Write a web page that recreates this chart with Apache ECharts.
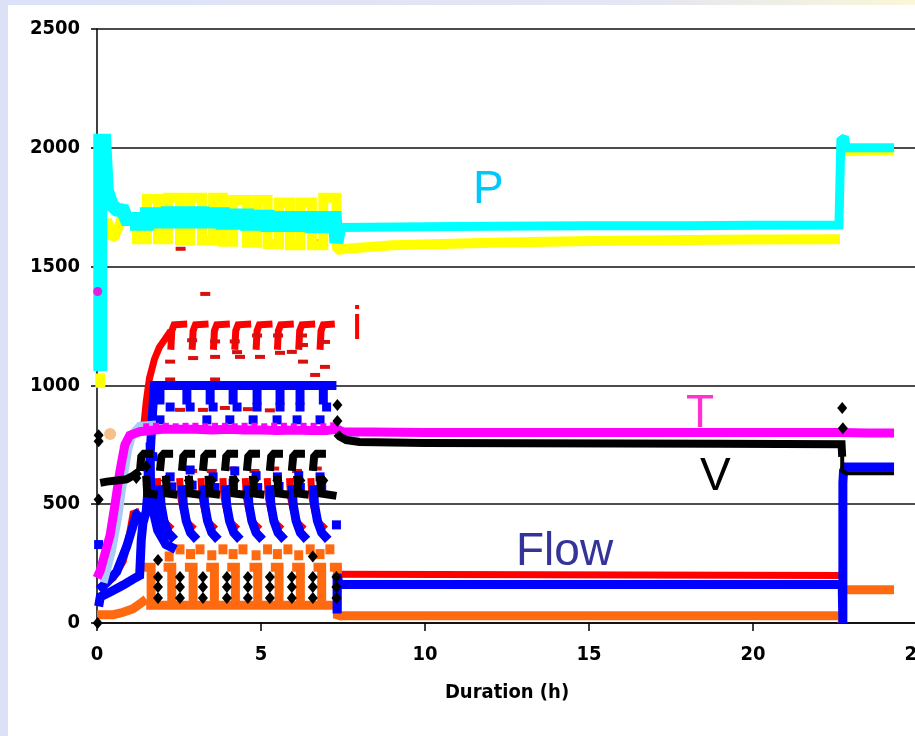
<!DOCTYPE html>
<html>
<head>
<meta charset="utf-8">
<script src="https://cdn.jsdelivr.net/npm/echarts@6/dist/echarts.min.js"></script>
<style>
html,body{margin:0;padding:0;background:#fff;}
#chart{width:915px;height:736px;}
</style>
</head>
<body>
<div id="chart"></div>
<script>
// ---- axis ticks ----
const xTicks = [0, 5, 10, 15, 20, 25];
const yTicks = [0, 500, 1000, 1500, 2000, 2500];
const xTitle = 'Duration (h)';
const G = '-';

// ---- P (cyan) ----
const pressureEarly = [[0.1,1060],[0.1,2030],[0.22,2030],[0.3,1820],[0.45,1760],[0.6,1740],[0.8,1735],[0.9,1700],[1.22,1700],[1.22,1680],[1.52,1680],[1.52,1720],[1.86,1720],[1.86,1690],[2.16,1690],[2.16,1725],[2.53,1725],[2.53,1690],[2.84,1690],[2.84,1725],[3.2,1725],[3.2,1690],[3.54,1690],[3.54,1720],[3.84,1720],[3.84,1685],[4.15,1685],[4.15,1715],[4.57,1715],[4.57,1680],[4.88,1680],[4.88,1710],[5.2,1710],[5.2,1675],[5.55,1675],[5.55,1705],[5.88,1705],[5.88,1675],[6.2,1675],[6.2,1705],[6.55,1705],[6.55,1670],[6.9,1670],[6.9,1705],[7.25,1705],[7.3,1600],[7.35,1600],[7.38,1665]];
const pressureLate = [[7.38,1665],[10,1668],[12,1670],[15,1672],[18,1672],[20,1674],[22.62,1675],[22.68,2040],[22.8,2035],[22.85,2000],[24.3,2000]];
// ---- yellow companion of P ----
const yellowTrace = [[0.1,990],[0.1,1050],[0.2,G],[0.3,1700],[0.45,1620],[0.55,1630],[0.75,1700],[1.0,1700],[1.22,1700],[1.22,1615],[1.52,1615],[1.52,1785],[1.86,1785],[1.86,1615],[2.16,1615],[2.16,1790],[2.53,1790],[2.53,1610],[2.84,1610],[2.84,1790],[3.2,1790],[3.2,1610],[3.54,1610],[3.54,1790],[3.84,1790],[3.84,1605],[4.15,1605],[4.15,1780],[4.57,1780],[4.57,1600],[4.88,1600],[4.88,1780],[5.2,1780],[5.2,1595],[5.55,1595],[5.55,1770],[5.88,1770],[5.88,1590],[6.2,1590],[6.2,1770],[6.55,1770],[6.55,1590],[6.9,1590],[6.9,1790],[7.3,1790],[7.32,1570],[7.6,1575],[9,1590],[12,1600],[15,1608],[18,1612],[20,1614],[22.65,1615],[22.7,G],[22.8,1985],[24.3,1990]];

// ---- i (red) ----
const currentLines = [[0.1,150],[0.5,190],[0.8,260],[1.0,380],[1.1,460],[1.3,470],[1.35,G],
 [1.42,820],[1.5,930],[1.6,1030],[1.75,1110],[1.9,1160],[2.1,1200],[2.25,1230],[2.26,G],
 [2.25,1150],[2.28,1230],[2.35,1255],[2.75,1258],[2.76,G],
 [2.9,1150],[2.93,1230],[3.0,1255],[3.4,1258],[3.41,G],
 [3.55,1150],[3.58,1230],[3.65,1255],[4.05,1258],[4.06,G],
 [4.2,1150],[4.23,1230],[4.3,1255],[4.7,1258],[4.71,G],
 [4.85,1150],[4.88,1230],[4.95,1255],[5.35,1258],[5.36,G],
 [5.5,1150],[5.53,1230],[5.6,1255],[6.0,1258],[6.01,G],
 [6.15,1150],[6.18,1230],[6.25,1255],[6.65,1258],[6.66,G],
 [6.8,1150],[6.83,1230],[6.9,1255],[7.25,1258],[7.26,G],
 [1.84,610],[1.87,530],[1.96,470],[2.09,420],[2.29,395],[2.3,G],
 [2.52,610],[2.55,530],[2.64,470],[2.77,420],[2.97,395],[2.98,G],
 [3.17,610],[3.2,530],[3.29,470],[3.42,420],[3.62,395],[3.63,G],
 [3.84,610],[3.87,530],[3.96,470],[4.09,420],[4.29,395],[4.3,G],
 [4.52,610],[4.55,530],[4.64,470],[4.77,420],[4.97,395],[4.98,G],
 [5.19,610],[5.22,530],[5.31,470],[5.44,420],[5.64,395],[5.65,G],
 [5.87,610],[5.9,530],[5.99,470],[6.12,420],[6.32,395],[6.33,G],
 [6.52,610],[6.55,530],[6.64,470],[6.77,420],[6.97,395],[6.98,G],
 [7.32,205],[22.72,200]];
const currentDashes = [[2.23,1100],[2.23,1025],[2.93,1115],[2.9,1190],[3.6,1120],[3.6,1185],[3.6,1025],[4.2,1185],[4.27,1140],[4.36,1120],[4.88,1210],[4.97,1120],[5.52,1210],[5.58,1137],[5.94,1141],[6.25,1210],[6.28,1170],[6.28,1100],[6.65,1044],[6.95,1078],[6.95,1183],[3.3,1385],[2.55,1575],[6.6,1605],[2.53,897],[3.23,897],[3.9,905],[4.6,900],[5.27,895],[2.9,640],[3.5,640],[4.1,650],[4.8,640],[5.4,650],[6.1,640],[6.7,650]];

// ---- Flow (blue) ----
const flowLines = [[0.05,70],[0.1,110],[0.4,130],[0.8,160],[1.1,185],[1.3,200],[1.35,350],[1.4,420],[1.5,470],[1.58,600],[1.64,760],[1.7,900],[1.75,1000],[7.3,1000],[7.31,G],
 [0.05,140],[0.3,170],[0.6,215],[0.9,320],[1.1,410],[1.2,455],[1.3,470],[1.31,G],
 [1.92,1000],[1.92,920],[1.93,G],[2.74,1000],[2.74,920],[2.75,G],[3.45,1000],[3.45,920],[3.46,G],[4.15,1000],[4.15,920],[4.16,G],[4.88,1000],[4.88,920],[4.89,G],[5.58,1000],[5.58,920],[5.59,G],[6.19,1000],[6.19,920],[6.2,G],[6.9,1000],[6.9,920],[6.91,G],
 [1.62,760],[1.63,600],[1.7,480],[1.85,390],[2.1,330],[2.4,310],[2.45,G],
 [1.92,580],[1.95,500],[2.04,430],[2.17,380],[2.37,350],[2.4,G],
 [2.6,580],[2.63,500],[2.72,430],[2.85,380],[3.05,350],[3.1,G],
 [3.25,580],[3.28,500],[3.37,430],[3.5,380],[3.7,350],[3.75,G],
 [3.92,580],[3.95,500],[4.04,430],[4.17,380],[4.37,350],[4.4,G],
 [4.6,580],[4.63,500],[4.72,430],[4.85,380],[5.05,350],[5.1,G],
 [5.27,580],[5.3,500],[5.39,430],[5.52,380],[5.72,350],[5.75,G],
 [5.95,580],[5.98,500],[6.07,430],[6.2,380],[6.4,350],[6.45,G],
 [6.6,580],[6.63,500],[6.72,430],[6.85,380],[7.05,350],[7.1,G],
 [7.32,40],[7.32,205],[7.38,162],[22.72,162],[22.74,0],[22.74,590],[22.76,640],[22.82,657],[24.3,657]];
const flowSquares = [[2.23,909],[2.84,909],[3.54,909],[4.27,909],[4.88,909],[5.58,909],[6.19,909],[7.0,909],[1.92,855],[3.35,855],[4.05,855],[4.76,855],[5.49,855],[6.1,855],[6.8,855],[1.56,636],[1.7,700],[2.23,615],[2.28,573],[2.84,644],[2.9,580],[3.54,615],[3.6,570],[4.15,589],[4.2,640],[4.85,620],[4.9,570],[5.5,615],[5.55,575],[6.15,620],[6.2,570],[6.8,615],[6.85,575],[7.3,413],[0.05,330]];

// ---- orange ----
const orangeLines = [[0,35],[0.5,35],[0.8,45],[1.1,60],[1.35,85],[1.5,100],[1.51,G],
 [1.5,75],[7.33,75],[7.34,G],
 [1.4,235],[1.65,235],[1.65,75],[1.66,G],
 [2.03,235],[2.28,235],[2.28,75],[2.29,G],
 [2.68,235],[2.93,235],[2.93,75],[2.94,G],
 [3.33,235],[3.58,235],[3.58,75],[3.59,G],
 [3.97,235],[4.22,235],[4.22,75],[4.23,G],
 [4.65,235],[4.9,235],[4.9,75],[4.91,G],
 [5.3,235],[5.55,235],[5.55,75],[5.56,G],
 [5.95,235],[6.2,235],[6.2,75],[6.21,G],
 [6.6,235],[6.85,235],[6.85,75],[6.86,G],
 [7.1,235],[7.33,235],[7.33,20],[7.38,30],[22.72,30],[22.72,0],[22.73,G],
 [22.8,140],[24.3,140]];
const orangeSquares = [[2.53,310],[3.14,310],[3.84,310],[4.45,310],[5.2,310],[5.82,310],[6.5,310],[7.1,310],[2.2,280],[2.85,290],[3.5,285],[4.15,290],[4.85,285],[5.5,290],[6.15,285],[6.8,290]];

// ---- T (magenta) and light blue ----
const tempLine = [[0,190],[0.1,220],[0.4,370],[0.55,500],[0.7,640],[0.85,750],[1.0,790],[1.3,805],[1.6,810],[2,815],[2.5,815],[3,815],[3.5,812],[4,815],[4.5,812],[5,812],[5.5,810],[6,812],[6.5,810],[7,810],[7.3,815],[7.5,805],[10,802],[15,802],[20,802],[22.7,802],[23.5,800],[24.3,800]];
const tempBumps = [[1.5,828],[1.8,830],[2.1,830],[2.4,828],[2.7,830],[3.0,830],[3.3,828],[3.6,830],[3.9,830],[4.2,828],[4.5,830],[4.8,830],[5.1,828],[5.4,830],[5.7,830],[6.0,828],[6.3,830],[6.6,830],[6.9,828],[7.2,832]];
const lightBlueLine = [[0.2,170],[0.45,300],[0.65,450],[0.8,600],[0.95,730],[1.1,800],[1.3,830],[1.8,835],[1.81,G],[7.3,830],[7.45,805],[7.6,790],[8,790]];

// ---- V (black) ----
const voltLines = [[0.1,590],[0.3,595],[0.6,600],[0.9,605],[1.1,620],[1.3,640],[1.31,G],
 [1.31,640],[1.35,700],[1.43,712],[1.71,712],[1.72,G],
 [1.92,640],[1.96,700],[2.04,712],[2.32,712],[2.33,G],
 [2.59,640],[2.63,700],[2.71,712],[2.99,712],[3.0,G],
 [3.23,640],[3.27,700],[3.35,712],[3.63,712],[3.64,G],
 [3.9,640],[3.94,700],[4.02,712],[4.3,712],[4.31,G],
 [4.57,640],[4.61,700],[4.69,712],[4.97,712],[4.98,G],
 [5.27,640],[5.31,700],[5.39,712],[5.67,712],[5.68,G],
 [5.94,640],[5.98,700],[6.06,712],[6.34,712],[6.35,G],
 [6.58,640],[6.62,700],[6.7,712],[6.98,712],[6.99,G],
 [1.5,620],[1.53,545],[1.85,540],[1.86,G],
 [2.1,620],[2.13,545],[2.45,540],[2.46,G],
 [2.8,620],[2.83,545],[3.15,540],[3.16,G],
 [3.4,620],[3.43,545],[3.75,540],[3.76,G],
 [4.15,620],[4.18,545],[4.5,540],[4.51,G],
 [4.75,620],[4.78,545],[5.1,540],[5.11,G],
 [5.5,620],[5.53,545],[5.85,540],[5.86,G],
 [6.1,620],[6.13,545],[6.45,540],[6.46,G],
 [6.8,620],[6.83,545],[7.3,535],[7.31,G],
 [7.3,800],[7.4,785],[7.6,770],[8,762],[10,758],[13,756],[16,755],[19,754],[22.7,752],[22.72,700],[22.73,G]];
const voltEnd = [[22.72,752],[22.72,640],[22.85,630],[24.3,630]];
const voltDiamonds = [[0.05,790],[0.05,765],[0.05,520],[0.02,0],[1.2,610],[7.33,918],[7.33,850],[22.72,905],[22.74,820],
 [1.86,105],[1.86,152],[1.86,194],[1.86,265],[2.53,105],[2.53,152],[2.53,194],[3.23,105],[3.23,152],[3.23,194],[3.96,105],[3.96,152],[3.96,194],[4.6,105],[4.6,152],[4.6,194],[5.27,105],[5.27,152],[5.27,194],[5.94,105],[5.94,152],[5.94,194],[6.58,105],[6.58,152],[6.58,194],[6.58,280],[7.3,105],[7.3,152],[7.3,194],
 [1.5,660],[2.1,600],[2.8,600],[3.5,600],[4.2,600],[4.8,600],[5.5,600],[6.2,600],[6.9,600]];

const peachDot = [[0.4,795]];
const magentaDot = [[0.02,1395]];

const chart = echarts.init(document.getElementById('chart'), null, {renderer:'canvas'});
const tickFont = {fontFamily:'"DejaVu Sans Condensed","DejaVu Sans",sans-serif', fontWeight:'bold', fontSize:20, color:'#000'};
function line(data, color, width, z) {
  return {type:'line', data:data, symbol:'none', connectNulls:false, z:z,
    lineStyle:{color:color, width:width, cap:'butt', join:'miter', miterLimit:1.5}, silent:true, animation:false};
}
function dots(data, color, symbol, size, z) {
  return {type:'scatter', data:data, symbol:symbol, symbolSize:size, z:z,
    itemStyle:{color:color, opacity:1}, silent:true, animation:false};
}
const annoFont = 'Liberation Sans, Arial, sans-serif';
function anno(text, x, y, color) {
  return {type:'text', x:x, y:y, z:100, style:{text:text, fill:color, font:'46px ' + annoFont, textAlign:'left', textVerticalAlign:'middle'}};
}
chart.setOption({
  animation:false,
  backgroundColor:'#ffffff',
  grid:{left:97, top:29, width:820, height:594, containLabel:false, outerBoundsMode:'none'},
  xAxis:{type:'value', min:xTicks[0], max:xTicks[xTicks.length-1], interval:5,
    name:xTitle, nameLocation:'middle', nameGap:60,
    nameTextStyle:{fontFamily:tickFont.fontFamily, fontWeight:'bold', fontSize:20, color:'#000'},
    axisLine:{show:true, onZero:false, lineStyle:{color:'#000', width:1.5}},
    axisTick:{show:true, inside:false, length:8, lineStyle:{color:'#000', width:1.5}},
    axisLabel:Object.assign({margin:22, formatter:function(v){return String(v);}}, tickFont),
    splitLine:{show:false}},
  yAxis:{type:'value', min:yTicks[0], max:yTicks[yTicks.length-1], interval:500,
    axisLine:{show:true, lineStyle:{color:'#000', width:1.5}},
    axisTick:{show:true, inside:false, length:6, lineStyle:{color:'#000', width:1.5}},
    axisLabel:Object.assign({margin:17, formatter:function(v){return String(v);}}, tickFont),
    splitLine:{show:true, lineStyle:{color:'#111', width:1.5}}},
  graphic:[
    {type:'rect', shape:{x:0, y:0, width:915, height:5}, z:-10, style:{fill:new echarts.graphic.LinearGradient(0,0,1,0,[{offset:0,color:'#dce1f8'},{offset:0.7,color:'#e4e6f2'},{offset:1,color:'#faf6d8'}])}},
    {type:'rect', shape:{x:0, y:0, width:8, height:736}, z:-10, style:{fill:'#dce1f8'}},
    anno('P', 473, 190, '#00c8f8'),
    anno('i', 352, 326, '#ff0000'),
    anno('T', 686, 414, '#ff33cc'),
    anno('V', 700, 477, '#000000'),
    anno('Flow', 516, 552, '#333399')
  ],
  series:[
    line(currentLines, '#ff0000', 7, 2),
    dots(currentDashes, '#d81010', 'rect', [10,4], 2),
    line(yellowTrace, '#ffff00', 10, 3),
    line(pressureEarly, '#00ffff', 14, 4),
    line(pressureLate, '#00ffff', 9, 4),
    line(orangeLines, '#ff6a10', 9, 5),
    dots(orangeSquares, '#ff6a10', 'rect', [9,10], 5),
    line(flowLines, '#0000ff', 9, 6),
    dots(flowSquares, '#0000ff', 'rect', [9,9], 6),
    line(lightBlueLine, '#a8cdf2', 8, 7),
    line(tempLine, '#ff00ff', 9, 8),
    dots(tempBumps, '#ff00ff', 'rect', [6,6], 8),
    line(voltLines, '#000000', 8, 9),
    line(voltEnd, '#000000', 4, 9),
    dots(voltDiamonds, '#000000', 'diamond', [10,12], 10),
    dots(peachDot, '#f5c08a', 'circle', 12, 10),
    dots(magentaDot, '#e020e0', 'circle', 9, 10)
  ]
});
</script>
</body>
</html>
